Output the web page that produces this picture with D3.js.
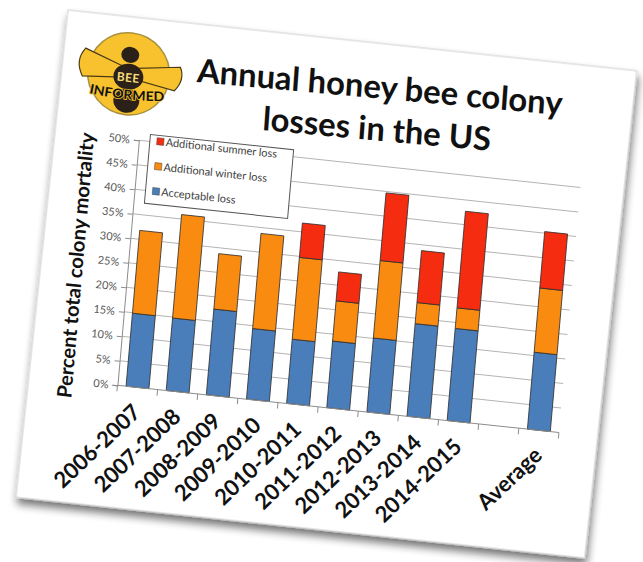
<!DOCTYPE html>
<html>
<head>
<meta charset="utf-8">
<script src="https://d3js.org/d3.v7.min.js"></script>
<style>
  body { margin: 0; background: #fff; font-family: "Lato", "Open Sans", sans-serif; }
</style>
</head>
<body>
<div id="chart"></div>
<script>
// data (percent)
var categories = ["2006-2007", "2007-2008", "2008-2009", "2009-2010", "2010-2011",
                  "2011-2012", "2012-2013", "2013-2014", "2014-2015", "", "Average"]
var acceptableLoss = [14.9, 14.8, 17.5, 14.4, 13.1, 13.6, 15.1, 18.9, 18.8, null, 15.7]
var winterLoss     = [16.9, 21.1, 11.3, 19.4, 16.7,  8.2, 15.8,  4.3,  4.2, null, 13.1]
var summerLoss     = [ 0,    0,    0,    0,    7.0,  5.9, 13.8, 10.6, 19.7, null, 11.5]
var yTicks = [0, 5, 10, 15, 20, 25, 30, 35, 40, 45, 50]
var seriesKeys  = ["acceptable", "winter", "summer"]
var legendNames = ["Additional summer loss", "Additional winter loss", "Acceptable loss"]
var titleLines  = ["Annual honey bee colony", "losses in the US"]
var yTitle = "Percent total colony mortality"

var colors = { acceptable: "#4a7ebb", winter: "#f98b10", summer: "#f52c10" }

var svg = d3.select("#chart").append("svg")
    .attr("width", 643).attr("height", 562)

// drop shadow for the tilted card
var defs = svg.append("defs")
var f = defs.append("filter").attr("id", "shadow")
    .attr("x", "-5%").attr("y", "-5%").attr("width", "112%").attr("height", "115%")
f.append("feGaussianBlur").attr("in", "SourceAlpha").attr("stdDeviation", 4)
f.append("feOffset").attr("dx", 2).attr("dy", 6).attr("result", "off")
f.append("feComponentTransfer").append("feFuncA").attr("type", "linear").attr("slope", 0.55)
var m = f.append("feMerge")
m.append("feMergeNode")
m.append("feMergeNode").attr("in", "SourceGraphic")

svg.append("g")
    .attr("transform", "translate(68,10) rotate(6.1)")
  .append("rect")
    .attr("width", 572).attr("height", 490)
    .attr("fill", "#fff").attr("stroke", "#cfcfcf")
    .attr("filter", "url(#shadow)")

// everything on the card is drawn in card coordinates, then tilted
var g = svg.append("g")
    .attr("transform", "matrix(0.9943,0.1063,-0.0872,0.9962,68,10)")

var plot = { left: 82, right: 526, top: 122, bottom: 368 }

var x = d3.scaleBand()
    .domain(categories)
    .range([plot.left, plot.right])
    .paddingInner(0.43)
    .paddingOuter(0.215)
var step = x.step()

var y = d3.scaleLinear().domain([0, 50]).range([plot.bottom, plot.top])

// gridlines
g.append("g").selectAll("line")
    .data(yTicks.filter(d => d > 0))
    .enter().append("line")
    .attr("x1", plot.left).attr("x2", plot.right)
    .attr("y1", d => y(d)).attr("y2", d => y(d))
    .attr("stroke", "#b4b4b4").attr("stroke-width", 1)

// stacked bars
var table = categories.map(function(c, i) {
    return { cat: c, acceptable: acceptableLoss[i] || 0, winter: winterLoss[i] || 0, summer: summerLoss[i] || 0 }
}).filter(d => d.cat !== "")

var stacked = d3.stack().keys(seriesKeys)(table)

g.append("g").selectAll("g")
    .data(stacked)
    .enter().append("g")
    .attr("fill", d => colors[d.key])
    .selectAll("rect")
    .data(d => d.filter(p => p[1] - p[0] > 0))
    .enter().append("rect")
    .attr("x", d => x(d.data.cat))
    .attr("width", x.bandwidth())
    .attr("y", d => y(d[1]))
    .attr("height", d => y(d[0]) - y(d[1]))
    .attr("stroke", "#2e2e2e").attr("stroke-width", 0.8)

// y axis
var yAxis = d3.axisLeft(y).tickValues(yTicks).tickSize(5).tickPadding(4).tickFormat(d => d + "%")
var ya = g.append("g").attr("transform", "translate(" + plot.left + ",0)").call(yAxis)
ya.select(".domain").attr("stroke", "#8c8c8c")
ya.selectAll(".tick line").attr("stroke", "#8c8c8c")
ya.selectAll("text").attr("fill", "#595959").attr("font-size", 11).attr("font-family", "Lato")

// x axis: line and ticks between categories
g.append("line")
    .attr("x1", plot.left).attr("x2", plot.right)
    .attr("y1", plot.bottom).attr("y2", plot.bottom)
    .attr("stroke", "#8c8c8c")
g.append("g").selectAll("line")
    .data(categories.concat(["end"]))
    .enter().append("line")
    .attr("x1", (d, i) => plot.left + i * step).attr("x2", (d, i) => plot.left + i * step)
    .attr("y1", plot.bottom).attr("y2", plot.bottom + 6)
    .attr("stroke", "#8c8c8c")

g.append("g").selectAll("text")
    .data(categories.filter(c => c !== ""))
    .enter().append("text")
    .attr("transform", d => "translate(" + (x(d) + x.bandwidth() / 2 + 1) + "," + (plot.bottom + 21) + ") rotate(-49)")
    .attr("text-anchor", "end")
    .attr("dy", "0.35em")
    .attr("font-size", 22).attr("font-weight", "bold").attr("fill", "#111")
    .text(d => d)

function fitText(sel, target) {
    var fs = parseFloat(sel.attr("font-size"))
    var w = sel.node().getComputedTextLength()
    sel.attr("font-size", fs * target / w)
    return fs * target / w
}

// y title
var yt = g.append("text")
    .attr("transform", "translate(30,253) rotate(-90)")
    .attr("text-anchor", "middle").attr("dy", "0.35em")
    .attr("font-size", 17).attr("font-weight", "bold").attr("fill", "#111")
    .text(yTitle)
fitText(yt, 266)

// legend
var lg = g.append("g")
lg.append("rect")
    .attr("x", 93).attr("y", 115).attr("width", 144).attr("height", 69)
    .attr("fill", "#fff").attr("stroke", "#555").attr("stroke-width", 1)
var legendKeys = ["summer", "winter", "acceptable"]
legendNames.forEach(function(name, i) {
    var row = lg.append("g").attr("transform", "translate(100," + (121 + i * 25) + ")")
    row.append("rect").attr("x", 0).attr("y", -3.5).attr("width", 7).attr("height", 7)
        .attr("fill", colors[legendKeys[i]]).attr("stroke", "#444").attr("stroke-width", 0.5)
    row.append("text").attr("x", 9).attr("dy", "0.35em")
        .attr("font-size", 11).attr("fill", "#404040").text(name)
})

// title
var tg = g.append("g").attr("transform", "rotate(-0.9,318,75)")
var t1 = tg.append("text").attr("x", 318).attr("y", 55)
    .attr("text-anchor", "middle").attr("font-size", 30).attr("font-weight", "bold").attr("fill", "#111")
    .text(titleLines[0])
var fs = fitText(t1, 367)
tg.append("text").attr("x", 318).attr("y", 97)
    .attr("text-anchor", "middle").attr("font-size", fs).attr("font-weight", "bold").attr("fill", "#111")
    .text(titleLines[1])

// Bee Informed logo
var logo = g.append("g").attr("transform", "translate(66,57)")
var yellow = "#f8c22e", dark = "#2b2118"
logo.append("circle").attr("r", 41).attr("fill", yellow).attr("stroke", "#a8913e").attr("stroke-width", 1.5)
logo.append("path")
    .attr("d", "M-6,-7 L-45,-21 Q-55,-8 -46,7 L-6,4 Z")
    .attr("fill", yellow).attr("stroke", "#4a3b16").attr("stroke-width", 1.2)
logo.append("path")
    .attr("d", "M6,-6 L51,-12 Q57,0 47,12 L6,5 Z")
    .attr("fill", yellow).attr("stroke", "#4a3b16").attr("stroke-width", 1.2)
logo.append("ellipse").attr("cx", 0).attr("cy", -19).attr("rx", 9).attr("ry", 8).attr("fill", dark)
logo.append("ellipse").attr("cx", 0).attr("cy", 3).attr("rx", 15).attr("ry", 13).attr("fill", dark)
logo.append("ellipse").attr("cx", 0).attr("cy", 27).attr("rx", 13).attr("ry", 12).attr("fill", dark)
logo.append("text").attr("x", 0).attr("y", 8)
    .attr("text-anchor", "middle").attr("font-size", 12).attr("font-weight", "bold")
    .attr("letter-spacing", 0.5).attr("fill", "#f6dc7a")
    .text("BEE")
defs.append("path").attr("id", "arc").attr("d", "M-40,23 Q0,28 40,23")
logo.append("text")
    .attr("font-size", 13).attr("font-weight", "bold").attr("fill", "#111")
    .attr("stroke", yellow).attr("stroke-width", 1.5).attr("paint-order", "stroke")
  .append("textPath")
    .attr("href", "#arc").attr("startOffset", "50%").attr("text-anchor", "middle")
    .attr("textLength", 76).attr("lengthAdjust", "spacingAndGlyphs")
    .text("INFORMED")
</script>
</body>
</html>
